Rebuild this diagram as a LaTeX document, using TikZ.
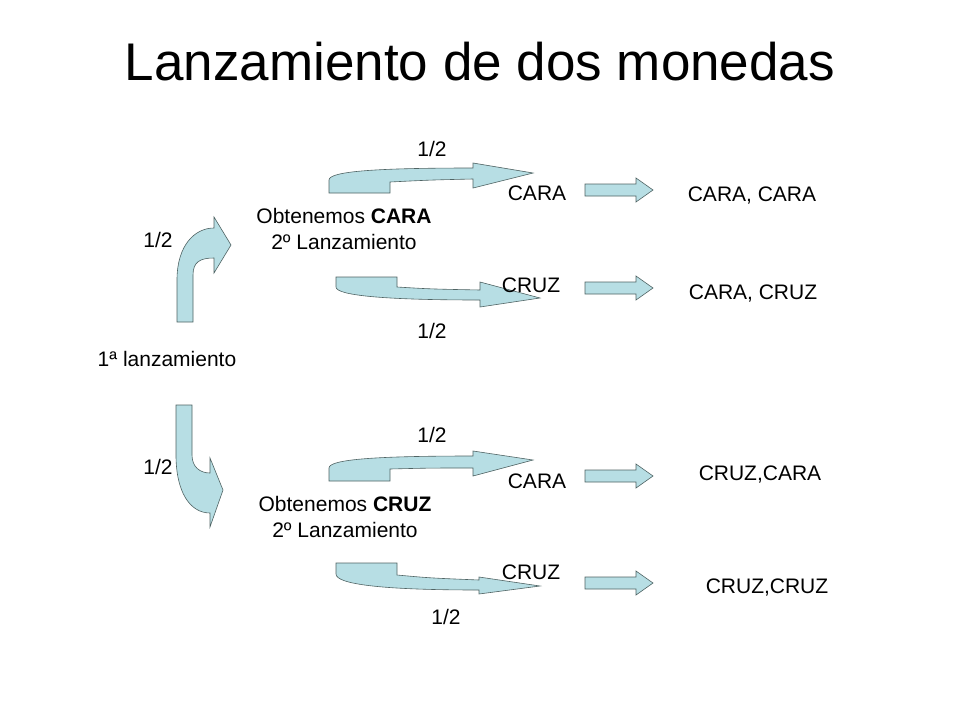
\documentclass[tikz,border=0pt]{standalone}
\usepackage{fontspec}
\setmainfont{Liberation Sans}
\usepackage{xcolor}
\usetikzlibrary{positioning}
\definecolor{arrowfill}{RGB}{183,222,228}
\definecolor{arrowline}{RGB}{80,100,100}
\tikzset{
  blockarrow/.style={fill=arrowfill, draw=arrowline, line width=0.6pt, line join=miter},
  lbl/.style={anchor=base, inner sep=0pt, font=\fontsize{21}{26}\selectfont}
}

\begin{document}
\begin{tikzpicture}[x=1pt, y=-1pt]
\useasboundingbox (0,0) rectangle (960,720);
\fill[white] (0,0) rectangle (960,720);

% Title
\node[anchor=base, inner sep=0pt, font=\fontsize{53}{60}\selectfont] (title) at (480,80) {Lanzamiento de dos monedas};

% First toss: bent arrows
\draw[blockarrow] (177,322) -- (177,280) .. controls (177,245) and (195,228) .. (214,228)
  -- (214,217) -- (231,245) -- (214,273) -- (214,258)
  .. controls (200,258) and (193,262) .. (193,275) -- (193,322) -- cycle;
\draw[blockarrow] (176,405) -- (192,405) -- (192,455) .. controls (192,467) and (200,473) .. (210,473)
  -- (210,458) -- (223,490) -- (210,527) -- (210,513)
  .. controls (190,513) and (176,492) .. (176,455) -- cycle;

% Second toss: curved arrows (upper row)
\draw[blockarrow] (329,193) -- (390,193) -- (390,182) .. controls (430,180) .. (473,179)
  -- (473,188) -- (533,173) -- (473,163) -- (473,168)
  .. controls (380,168) and (329,171) .. (329,180) -- cycle;
\draw[blockarrow] (336,277) -- (397,277) -- (397,287) .. controls (430,289) .. (480,290)
  -- (480,282) -- (540,298) -- (480,307) -- (480,300)
  .. controls (380,300) and (336,295) .. (336,287) -- cycle;

% Second toss: curved arrows (lower row)
\draw[blockarrow] (329,481) -- (390,481) -- (390,469) .. controls (430,468) .. (473,468)
  -- (473,476) -- (533,460) -- (473,451) -- (473,456)
  .. controls (380,456) and (329,459) .. (329,468) -- cycle;
\draw[blockarrow] (336,563) -- (397,563) -- (397,575) .. controls (430,578) .. (479,580)
  -- (479,577) -- (540,586) -- (479,594) -- (479,590)
  .. controls (380,590) and (336,584) .. (336,574) -- cycle;

% Result arrows
\foreach \c in {190,288,476,583}
  \draw[blockarrow] (585,\c-6) -- (636,\c-6) -- (636,\c-12) -- (653,\c) -- (636,\c+12) -- (636,\c+6) -- (585,\c+6) -- cycle;

% Labels
\node[lbl] (first) at (167,366) {1ª lanzamiento};
\node[lbl] (pup) at (158,247) {1/2};
\node[lbl] (pdown) at (158,474) {1/2};
\node[lbl, align=center] (gotcara) at (344,249) {Obtenemos \textbf{CARA}\\2º Lanzamiento};
\node[lbl, align=center] (gotcruz) at (345,537) {Obtenemos \textbf{CRUZ}\\2º Lanzamiento};

\node[lbl] (pa) at (432,156) {1/2};
\node[lbl] (pb) at (432,338) {1/2};
\node[lbl] (pc) at (432,442) {1/2};
\node[lbl] (pd) at (446,624) {1/2};

\node[lbl] (caraA) at (537,200) {CARA};
\node[lbl] (cruzA) at (531,292) {CRUZ};
\node[lbl] (caraB) at (537,488) {CARA};
\node[lbl] (cruzB) at (531,579) {CRUZ};

\node[lbl] (rAA) at (752,201) {CARA, CARA};
\node[lbl] (rAB) at (753,299) {CARA, CRUZ};
\node[lbl] (rBA) at (760,480) {CRUZ,CARA};
\node[lbl] (rBB) at (767,593) {CRUZ,CRUZ};
\end{tikzpicture}
\end{document}
